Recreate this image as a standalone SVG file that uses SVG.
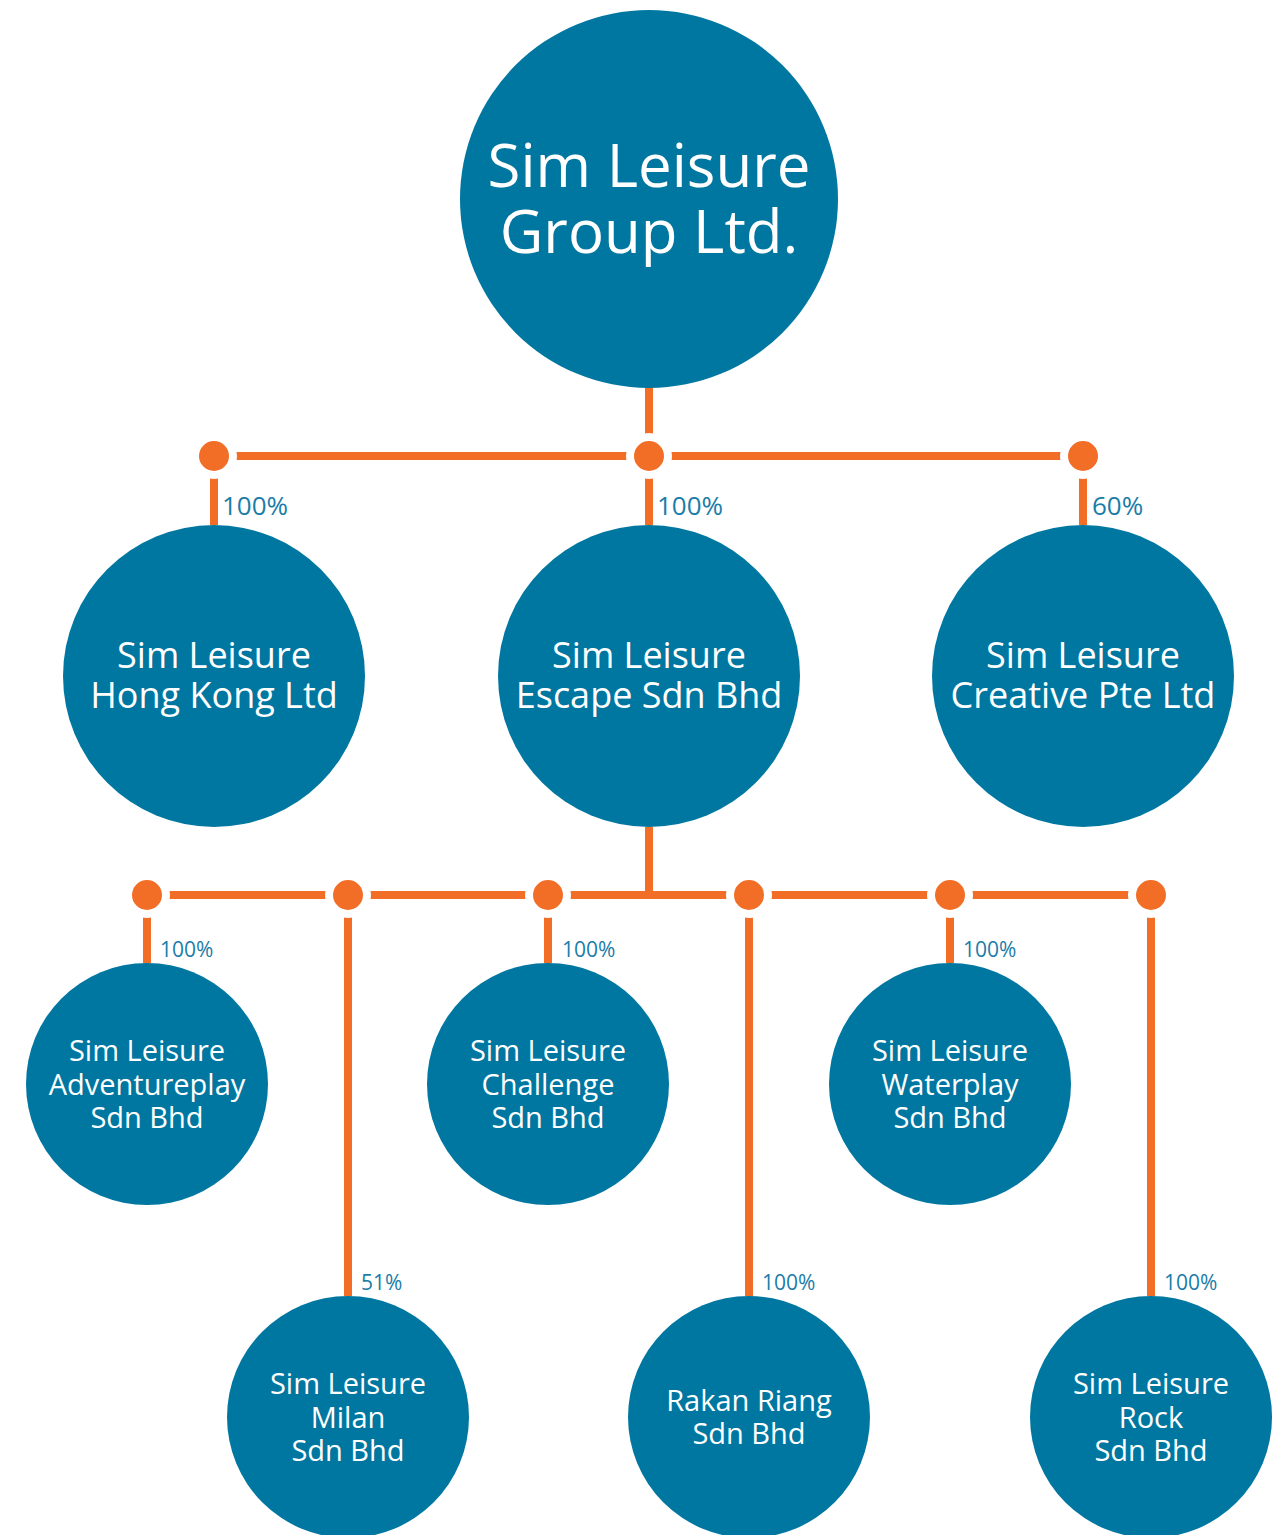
<svg xmlns="http://www.w3.org/2000/svg" width="1284" height="1535" viewBox="0 0 1284 1535">
<style>
.node{fill:#0077A1}
.ln{stroke:#F26E27;stroke-width:8;fill:none}
.dot{fill:#F26E27;stroke:#FFFFFF;stroke-width:8}
.t{font-family:"Open Sans","Noto Sans",sans-serif;fill:#FFFFFF;text-anchor:middle}
.pct{font-family:"Open Sans","Noto Sans",sans-serif;fill:#1A7DA8}
</style>
<rect width="1284" height="1535" fill="#FFFFFF"/>
<g id="connectors">
<path class="ln" d="M649 387V456M214 456H1083M214 456V525M649 456V525M1083 456V525"/>
<path class="ln" d="M649 827V895M147 895H1151M147 895V963M548 895V963M950 895V963M348 895V1296M749 895V1296M1151 895V1296"/>
<circle class="dot" cx="214" cy="456" r="19"/>
<circle class="dot" cx="649" cy="456" r="19"/>
<circle class="dot" cx="1083" cy="456" r="19"/>
<circle class="dot" cx="147" cy="895" r="19"/>
<circle class="dot" cx="348" cy="895" r="19"/>
<circle class="dot" cx="548" cy="895" r="19"/>
<circle class="dot" cx="749" cy="895" r="19"/>
<circle class="dot" cx="950" cy="895" r="19"/>
<circle class="dot" cx="1151" cy="895" r="19"/>
<g class="pct" font-size="26">
<text x="222" y="515">100%</text>
<text x="657" y="515">100%</text>
<text x="1092" y="515">60%</text>
</g>
<g class="pct" font-size="21">
<text x="160" y="957">100%</text>
<text x="562" y="957">100%</text>
<text x="963" y="957">100%</text>
<text x="361" y="1290">51%</text>
<text x="762" y="1290">100%</text>
<text x="1164" y="1290">100%</text>
</g>
</g>
<g id="root">
<circle class="node" cx="649" cy="199" r="189"/>
<text class="t" font-size="60" x="649" y="187">Sim Leisure</text>
<text class="t" font-size="60" x="649" y="253">Group Ltd.</text>
</g>
<g id="hongkong">
<circle class="node" cx="214" cy="676" r="151"/>
<text class="t" font-size="36" x="214" y="668">Sim Leisure</text>
<text class="t" font-size="36" x="214" y="708">Hong Kong Ltd</text>
</g>
<g id="escape">
<circle class="node" cx="649" cy="676" r="151"/>
<text class="t" font-size="36" x="649" y="668">Sim Leisure</text>
<text class="t" font-size="36" x="649" y="708">Escape Sdn Bhd</text>
</g>
<g id="creative">
<circle class="node" cx="1083" cy="676" r="151"/>
<text class="t" font-size="36" x="1083" y="668">Sim Leisure</text>
<text class="t" font-size="36" x="1083" y="708">Creative Pte Ltd</text>
</g>
<g id="adventureplay">
<circle class="node" cx="147" cy="1084" r="121"/>
<text class="t" font-size="29" x="147" y="1061">Sim Leisure</text>
<text class="t" font-size="29" x="147" y="1095">Adventureplay</text>
<text class="t" font-size="29" x="147" y="1128">Sdn Bhd</text>
</g>
<g id="challenge">
<circle class="node" cx="548" cy="1084" r="121"/>
<text class="t" font-size="29" x="548" y="1061">Sim Leisure</text>
<text class="t" font-size="29" x="548" y="1095">Challenge</text>
<text class="t" font-size="29" x="548" y="1128">Sdn Bhd</text>
</g>
<g id="waterplay">
<circle class="node" cx="950" cy="1084" r="121"/>
<text class="t" font-size="29" x="950" y="1061">Sim Leisure</text>
<text class="t" font-size="29" x="950" y="1095">Waterplay</text>
<text class="t" font-size="29" x="950" y="1128">Sdn Bhd</text>
</g>
<g id="milan">
<circle class="node" cx="348" cy="1417" r="121"/>
<text class="t" font-size="29" x="348" y="1394">Sim Leisure</text>
<text class="t" font-size="29" x="348" y="1428">Milan</text>
<text class="t" font-size="29" x="348" y="1461">Sdn Bhd</text>
</g>
<g id="rakan">
<circle class="node" cx="749" cy="1417" r="121"/>
<text class="t" font-size="29" x="749" y="1411">Rakan Riang</text>
<text class="t" font-size="29" x="749" y="1444">Sdn Bhd</text>
</g>
<g id="rock">
<circle class="node" cx="1151" cy="1417" r="121"/>
<text class="t" font-size="29" x="1151" y="1394">Sim Leisure</text>
<text class="t" font-size="29" x="1151" y="1428">Rock</text>
<text class="t" font-size="29" x="1151" y="1461">Sdn Bhd</text>
</g>
</svg>
